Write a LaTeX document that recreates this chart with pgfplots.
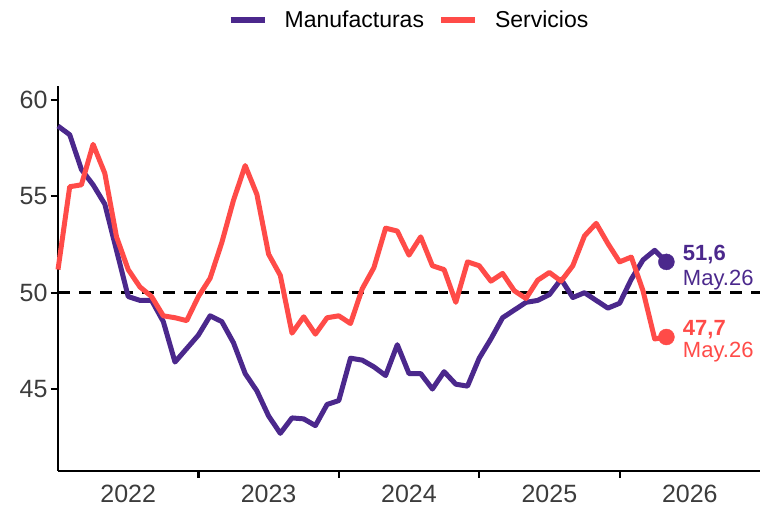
\documentclass[border=0pt]{standalone}
\usepackage{fontspec}
\setmainfont{Liberation Sans}
\usepackage{pgfplots}
\usepackage{pgfplotstable}
\pgfplotsset{compat=1.18}

\definecolor{manuf}{RGB}{75,40,140}
\definecolor{serv}{RGB}{255,75,72}
\definecolor{ticktext}{RGB}{60,60,60}

% monthly PMI, 0 = Jan 2022
\pgfplotstableread{
m  manuf  serv
0  58.65  51.2
1  58.2   55.5
2  56.4   55.6
3  55.6   57.7
4  54.6   56.2
5  52.2   52.9
6  49.8   51.2
7  49.6   50.3
8  49.6   49.8
9  48.5   48.8
10 46.4   48.7
11 47.1   48.55
12 47.8   49.8
13 48.8   50.75
14 48.5   52.6
15 47.4   54.8
16 45.8   56.6
17 44.9   55.1
18 43.6   52.0
19 42.7   50.9
20 43.5   47.9
21 43.45  48.75
22 43.1   47.85
23 44.2   48.7
24 44.4   48.8
25 46.6   48.4
26 46.5   50.2
27 46.15  51.3
28 45.7   53.35
29 47.3   53.2
30 45.8   51.95
31 45.8   52.9
32 45.0   51.4
33 45.9   51.2
34 45.25  49.5
35 45.15  51.6
36 46.6   51.4
37 47.6   50.6
38 48.7   51.0
39 49.1   50.1
40 49.5   49.7
41 49.6   50.65
42 49.9   51.05
43 50.7   50.6
44 49.75  51.4
45 50.0   52.95
46 49.6   53.6
47 49.2   52.55
48 49.45  51.6
49 50.7   51.85
50 51.7   50.1
51 52.2   47.6
52 51.6   47.7
}\pmidata

\begin{document}
\begin{tikzpicture}
\path[use as bounding box] (0,0) rectangle (760pt,513pt);
\begin{axis}[
  scale only axis, width=702pt, height=384.7pt,
  at={(58pt,42.3pt)}, anchor=south west,
  xmin=0, xmax=60, ymin=40.76, ymax=60.73,
  axis lines=left,
  axis line style={-, line width=2.2pt, black},
  xtick={12,24,36,48}, xticklabels={},
  extra x ticks={6,18,30,42,54},
  extra x tick labels={2022,2023,2024,2025,2026},
  extra x tick style={major tick length=0pt, xticklabel style={yshift=-11pt}},
  ytick={45,50,55,60},
  tick style={black, line width=2.2pt},
  major tick length=7pt,
  tick align=outside,
  ticklabel style={font=\fontsize{25}{30}\selectfont, text=ticktext},
  /pgf/number format/assume math mode=true,
  clip=false,
  legend columns=2,
  legend style={at={(0.5,1.1716)}, anchor=center, draw=none,
    font=\fontsize{23}{27}\selectfont,
    /tikz/every odd column/.append style={column sep=15pt},
    /tikz/every even column/.append style={column sep=12pt}},
  legend image code/.code={\draw[#1, line width=6pt] (0pt,0pt) -- (34pt,0pt);},
]
\addplot[black, line width=2.5pt, dash pattern=on 12pt off 9pt, forget plot]
  coordinates {(0,50) (60,50)};
\addplot[manuf, line width=5pt, line join=round] table[x=m, y=manuf] {\pmidata};
\addlegendentry{Manufacturas}
\addplot[serv, line width=5pt, line join=round] table[x=m, y=serv] {\pmidata};
\addlegendentry{Servicios}
\addplot[manuf, only marks, mark=*, mark size=8pt, forget plot] coordinates {(52,51.6)};
\addplot[serv, only marks, mark=*, mark size=8pt, forget plot] coordinates {(52,47.7)};
\node[anchor=west, inner sep=0pt, text=manuf, font=\fontsize{22}{26}\selectfont\bfseries] at (axis cs:53.4,52.0) {51,6};
\node[anchor=west, inner sep=0pt, text=manuf, font=\fontsize{22}{26}\selectfont] at (axis cs:53.4,50.65) {May.26};
\node[anchor=west, inner sep=0pt, text=serv, font=\fontsize{22}{26}\selectfont\bfseries] at (axis cs:53.4,48.06) {47,7};
\node[anchor=west, inner sep=0pt, text=serv, font=\fontsize{22}{26}\selectfont] at (axis cs:53.4,46.9) {May.26};
\end{axis}
\end{tikzpicture}
\end{document}
